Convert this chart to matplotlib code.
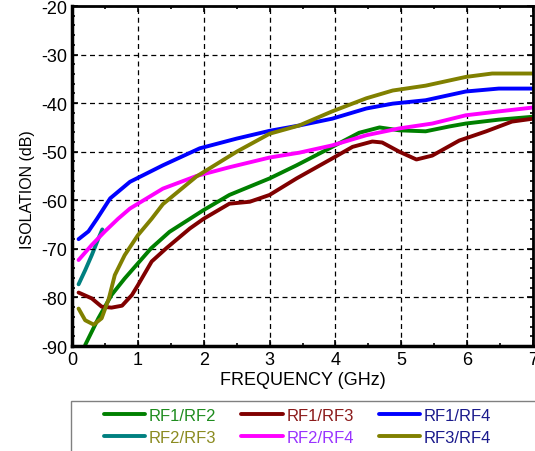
import matplotlib.pyplot as plt
from matplotlib.patches import Rectangle
from matplotlib.ticker import MultipleLocator

plt.rcParams['font.family'] = ['Liberation Sans', 'DejaVu Sans']
plt.rcParams['axes.unicode_minus'] = False

# isolation curves (GHz, dB)
f_12 = [0.2, 0.4, 0.6, 0.8, 1.0, 1.2, 1.48, 2.0, 2.39, 3.0, 3.41, 3.91, 4.36, 4.67, 4.97, 5.37, 5.73, 5.98, 6.48, 7.0]
v_12 = [-89.8, -84.3, -79.5, -76.1, -73.0, -69.9, -66.5, -62.0, -58.9, -55.5, -52.8, -49.3, -46.1, -45.0, -45.6, -45.8, -44.8, -44.2, -43.4, -42.8]

f_13 = [0.1, 0.3, 0.45, 0.6, 0.76, 0.91, 1.0, 1.21, 1.43, 1.79, 2.0, 2.39, 2.7, 3.0, 3.41, 3.95, 4.26, 4.56, 4.71, 4.97, 5.23, 5.47, 5.88, 6.29, 6.68, 7.0]
v_13 = [-79.0, -80.2, -81.9, -82.1, -81.7, -79.5, -77.5, -72.6, -69.9, -65.8, -63.8, -60.7, -60.3, -58.9, -55.5, -51.4, -49.0, -47.9, -48.1, -50.0, -51.6, -50.8, -47.7, -45.8, -43.8, -43.2]

f_14 = [0.1, 0.25, 0.38, 0.58, 0.88, 1.38, 1.94, 2.5, 3.0, 3.45, 3.95, 4.47, 4.87, 5.37, 5.98, 6.48, 7.0]
v_14 = [-68.0, -66.4, -63.8, -59.6, -56.2, -52.8, -49.3, -47.3, -45.7, -44.6, -43.2, -41.1, -40.1, -39.4, -37.6, -37.0, -37.0]

f_23 = [0.1, 0.2, 0.3, 0.4, 0.46]
v_23 = [-77.3, -74.4, -71.3, -67.9, -66.0]

f_24 = [0.1, 0.3, 0.5, 0.7, 0.88, 1.38, 1.89, 2.39, 3.0, 3.45, 3.95, 4.47, 4.97, 5.47, 5.98, 6.48, 7.0]
v_24 = [-72.3, -69.2, -66.4, -63.8, -61.7, -57.6, -55.0, -53.2, -51.2, -50.2, -48.7, -46.6, -45.2, -44.2, -42.5, -41.7, -40.9]

f_34 = [0.1, 0.2, 0.33, 0.45, 0.56, 0.65, 0.8, 1.0, 1.21, 1.38, 1.89, 2.5, 3.0, 3.45, 3.95, 4.47, 4.87, 5.37, 5.98, 6.38, 7.0]
v_34 = [-82.3, -84.7, -85.6, -84.3, -80.2, -75.4, -71.3, -67.2, -63.8, -60.8, -55.1, -50.0, -46.3, -44.6, -41.7, -39.0, -37.4, -36.4, -34.6, -33.9, -33.9]

series = [
    ('RF1/RF2', f_12, v_12, '#008000', '#1e8c1e'),
    ('RF1/RF3', f_13, v_13, '#800000', '#8b1a1a'),
    ('RF1/RF4', f_14, v_14, '#0000ff', '#1a1a8c'),
    ('RF2/RF3', f_23, v_23, '#008080', '#8b8b20'),
    ('RF2/RF4', f_24, v_24, '#ff00ff', '#9933ff'),
    ('RF3/RF4', f_34, v_34, '#808000', '#1a1a8c'),
]

fig = plt.figure(figsize=(5.35, 4.52), dpi=100)
ax = fig.add_axes([72 / 535, 1 - 347 / 452, 461 / 535, 340 / 452])

lines = {}
for name, f, v, c, _ in series:
    # RF2/RF3 sits underneath the others, as in the original
    z = 1.5 if name == 'RF2/RF3' else 2
    lines[name], = ax.plot(f, v, color=c, lw=2.8, label=name, zorder=z,
                           solid_capstyle='round', solid_joinstyle='round')

ax.set_xlim(0, 7)
ax.set_ylim(-90, -20)
ax.xaxis.set_major_locator(MultipleLocator(1))
ax.xaxis.set_minor_locator(MultipleLocator(0.5))
ax.yaxis.set_major_locator(MultipleLocator(10))
ax.yaxis.set_minor_locator(MultipleLocator(2))
ax.tick_params(which='both', direction='in', top=True, right=True, labelsize=13)
ax.tick_params(which='major', length=4, width=1.2)
ax.tick_params(which='minor', length=2.5, width=1.2)
ax.grid(True, which='major', color='black', ls=(0, (4, 3)), lw=0.9)
for s in ax.spines.values():
    s.set_linewidth(2)
ax.spines['left'].set_linewidth(2.5)
ax.spines['bottom'].set_linewidth(2.5)
ax.set_xlabel('FREQUENCY (GHz)', fontsize=13, labelpad=2)
ax.set_ylabel('ISOLATION (dB)', fontsize=11.5)
ax.yaxis.set_label_coords(-0.08, 0.462)

# legend box runs off the bottom/right edge of the figure
fig.patches.append(Rectangle((71 / 535, -0.05), 0.9, 0.05 + 50 / 452,
                             transform=fig.transFigure, fill=False,
                             edgecolor='#808080', lw=1))

order = ['RF1/RF2', 'RF2/RF3', 'RF1/RF3', 'RF2/RF4', 'RF1/RF4', 'RF3/RF4']
text_colors = {name: tc for name, _, _, _, tc in series}
leg = fig.legend([lines[n] for n in order], order, ncol=3, frameon=False,
                 loc='upper left', bbox_to_anchor=(97 / 535, 1 - 402 / 452),
                 fontsize=12, handlelength=2.5, handletextpad=0.2,
                 columnspacing=1.5, labelspacing=0.45, borderaxespad=0)
for t, n in zip(leg.get_texts(), order):
    t.set_color(text_colors[n])

fig.savefig('out.png', dpi=100)
